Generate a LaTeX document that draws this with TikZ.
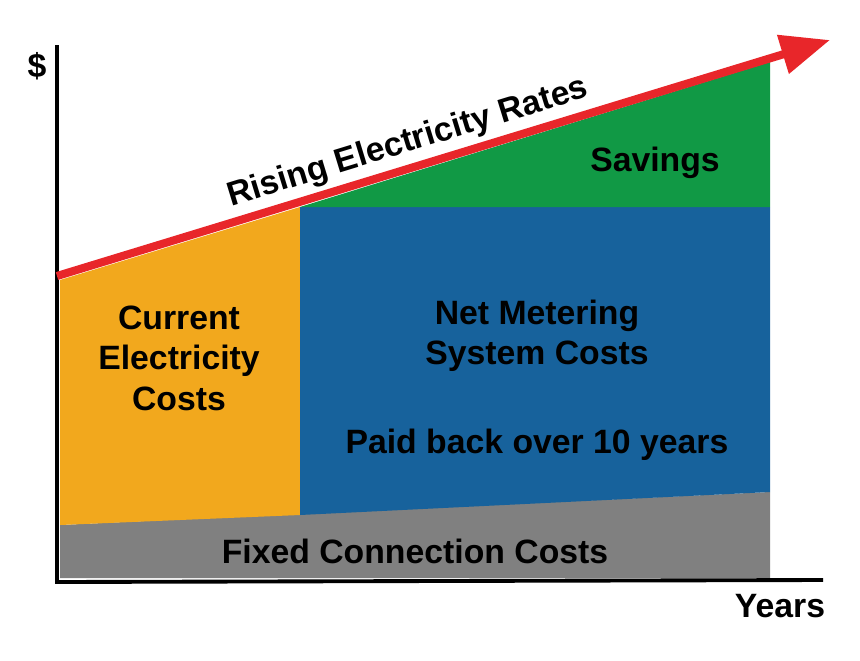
\documentclass[tikz,border=0pt]{standalone}
\usepackage{fontspec}
\setmainfont{Liberation Sans}
\usetikzlibrary{arrows.meta}
\definecolor{cgray}{HTML}{808080}
\definecolor{corange}{HTML}{F2A81D}
\definecolor{cblue}{HTML}{17629C}
\definecolor{cgreen}{HTML}{119945}
\definecolor{cred}{HTML}{E8262A}
\tikzset{lbl/.style={font=\bfseries\fontsize{9.6}{11.5}\selectfont, align=center, text=black}}
\begin{document}
\begin{tikzpicture}[x=0.01cm,y=-0.01cm]
\useasboundingbox (0,0) rectangle (860,660);
\fill[cgray] (60,525) -- (770,492) -- (770,578) -- (60,578) -- cycle;
\fill[corange] (60,280) -- (300,207) -- (300,515) -- (60,525) -- cycle;
\fill[cblue] (300,207) -- (770,207) -- (770,492) -- (300,515) -- cycle;
\fill[cgreen] (300,207) -- (770,62) -- (770,207) -- cycle;
\coordinate (o) at (57,582);
\coordinate (ytop) at (57,45);
\coordinate (xend) at (823,580);
\draw[line width=1.1pt] (ytop) -- (o) -- (xend);
\coordinate (a0) at (57,276);
\coordinate (a1) at (830,40);
\draw[cred, line width=2.3pt, -{Triangle[length=14pt,width=11pt]}] (a0) -- (a1);
\node[lbl, rotate=17, fill=none] (rise) at (408,143) {Rising Electricity Rates};
\node[lbl] (sav) at (655,163) {Savings};
\node[lbl, align=center] (cur) at (179,358) {Current\\Electricity\\Costs};
\node[lbl] (net) at (537,336) {Net Metering\\System Costs};
\node[lbl] (paid) at (537,445) {Paid back over 10 years};
\node[lbl] (fix) at (415,551) {Fixed Connection Costs};
\node[lbl] (dol) at (37,66) {\$};
\node[lbl] (yrs) at (780,606) {Years};
\end{tikzpicture}
\end{document}
